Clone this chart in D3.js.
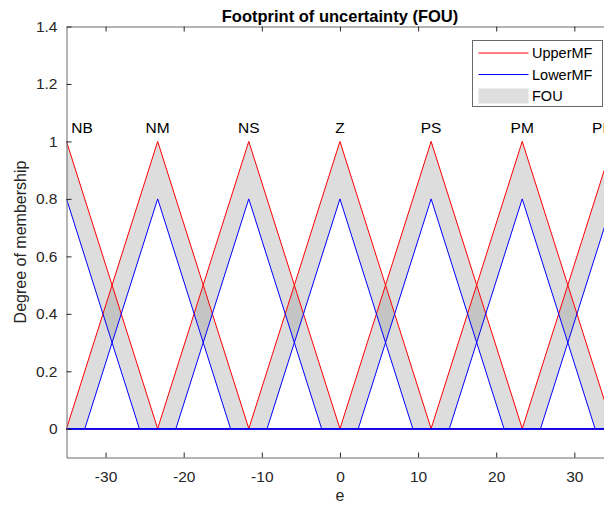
<!DOCTYPE html>
<html>
<head>
<meta charset="utf-8">
<script src="https://cdn.jsdelivr.net/npm/d3@7/dist/d3.min.js"></script>
<style>
  html, body { margin: 0; padding: 0; background: #fff; }
  svg { display: block; font-family: "Liberation Sans", Arial, Helvetica, sans-serif; }
</style>
</head>
<body>
<svg id="chart" width="604" height="506"></svg>
<script>
// Interval type-2 triangular membership functions for the error signal e
const mfNames   = ["NB", "NM", "NS", "Z", "PS", "PM", "PB"];
const mfCenters = [-35, -23.33, -11.67, 0, 11.67, 23.33, 35];
const upperHalfWidth = 11.67;   // upper MF: peak 1, base c ± 11.67
const upperPeak      = 1;
const lowerHalfWidth = 9.33;    // lower MF: peak 0.8, base c ± 9.33
const lowerPeak      = 0.8;
const labelX = [-33, -23.33, -11.67, 0, 11.67, 23.33, 33.6];
const labelY = 1.05;

const xDomain = [-35, 35];
const yDomain = [-0.1, 1.4];
const xTicks = [-30, -20, -10, 0, 10, 20, 30];
const yTicks = [0, 0.2, 0.4, 0.6, 0.8, 1, 1.2, 1.4];

const svg = d3.select("#chart");
const plotLeft = 66.5, plotRight = 613.4, plotTop = 26.5, plotBottom = 457.5;

const x = d3.scaleLinear().domain(xDomain).range([plotLeft, plotRight]);
const y = d3.scaleLinear().domain(yDomain).range([plotBottom, plotTop]);

const axisColor = "#6a6a6a";
const textColor = "#262626";

svg.append("defs").append("clipPath").attr("id", "plotClip")
  .append("rect").attr("x", plotLeft).attr("y", plotTop)
  .attr("width", plotRight - plotLeft).attr("height", plotBottom - plotTop);

const plot = svg.append("g").attr("clip-path", "url(#plotClip)");

// triangle vertices for one MF, spread over the whole domain
function tri(c, hw, peak) {
  return [[xDomain[0] - 20, 0], [c - hw, 0], [c, peak], [c + hw, 0], [xDomain[1] + 20, 0]];
}
const line = d3.line().x(d => x(d[0])).y(d => y(d[1]));

// FOU band: region between upper and lower MF
mfCenters.forEach(c => {
  const poly = [
    [c - upperHalfWidth, 0], [c, upperPeak], [c + upperHalfWidth, 0],
    [c + lowerHalfWidth, 0], [c, lowerPeak], [c - lowerHalfWidth, 0]
  ];
  plot.append("path")
    .attr("d", line(poly) + "Z")
    .attr("fill", "#808080")
    .attr("fill-opacity", 0.27)
    .attr("stroke", "none");
});

mfCenters.forEach(c => {
  plot.append("path").attr("d", line(tri(c, upperHalfWidth, upperPeak)))
    .attr("fill", "none").attr("stroke", "#ff0000").attr("stroke-width", 1);
});
mfCenters.forEach(c => {
  plot.append("path").attr("d", line(tri(c, lowerHalfWidth, lowerPeak)))
    .attr("fill", "none").attr("stroke", "#0000ff").attr("stroke-width", 1);
});

// MF names
mfNames.forEach((n, i) => {
  svg.append("text")
    .attr("x", x(labelX[i])).attr("y", y(labelY) + 5.5)
    .attr("text-anchor", "middle")
    .attr("font-size", 15.5).attr("fill", "#000")
    .text(n);
});

// Axes box with inward ticks
const axes = svg.append("g");
const tickLen = 5;

const bottomAxis = d3.axisBottom(x).tickValues(xTicks).tickSizeInner(-tickLen).tickSizeOuter(0).tickPadding(13)
  .tickFormat(d => d < 0 ? "-" + Math.abs(d) : d);
const topAxis = d3.axisTop(x).tickValues(xTicks).tickSizeInner(-tickLen).tickSizeOuter(0).tickFormat("");
const leftAxis = d3.axisLeft(y).tickValues(yTicks).tickSizeInner(-tickLen).tickSizeOuter(0).tickPadding(9)
  .tickFormat(d3.format("~g"));

function styleAxis(g) {
  g.select(".domain").attr("stroke", axisColor).attr("stroke-width", 1);
  g.selectAll(".tick line").attr("stroke", "#262626").attr("stroke-width", 1);
  g.selectAll(".tick text").attr("fill", textColor).attr("font-size", 15.5)
    .attr("font-family", "Liberation Sans, Arial, sans-serif");
}

axes.append("g").attr("transform", `translate(0,${plotBottom})`).call(bottomAxis).call(styleAxis);
axes.append("g").attr("transform", `translate(0,${plotTop})`).call(topAxis).call(styleAxis);
axes.append("g").attr("transform", `translate(${plotLeft},0)`).call(leftAxis).call(styleAxis);

// Title and axis labels
svg.append("text").attr("x", 340).attr("y", 21.5)
  .attr("text-anchor", "middle").attr("font-size", 16.5).attr("font-weight", "bold")
  .attr("fill", "#000").text("Footprint of uncertainty (FOU)");

svg.append("text").attr("x", 340).attr("y", 501)
  .attr("text-anchor", "middle").attr("font-size", 16).attr("fill", textColor).text("e");

svg.append("text")
  .attr("transform", `translate(26,${(plotTop + plotBottom) / 2}) rotate(-90)`)
  .attr("text-anchor", "middle").attr("font-size", 16).attr("fill", textColor)
  .text("Degree of membership");

// Legend
const legendItems = [
  { label: "UpperMF", type: "line", color: "#ff0000" },
  { label: "LowerMF", type: "line", color: "#0000ff" },
  { label: "FOU", type: "patch", color: "#dedede" }
];
const lg = svg.append("g").attr("transform", "translate(472.5,40.5)");
lg.append("rect").attr("x", 0).attr("y", 0).attr("width", 130).attr("height", 66)
  .attr("fill", "#fff").attr("stroke", axisColor).attr("stroke-width", 1);
legendItems.forEach((it, i) => {
  const cy = 12.5 + i * 21.5;
  if (it.type === "line") {
    lg.append("line").attr("x1", 6).attr("x2", 56).attr("y1", cy).attr("y2", cy)
      .attr("stroke", it.color).attr("stroke-width", 1);
  } else {
    lg.append("rect").attr("x", 6).attr("y", cy - 7.5).attr("width", 50).attr("height", 15)
      .attr("fill", it.color);
  }
  lg.append("text").attr("x", 59.5).attr("y", cy + 5.2).attr("font-size", 14.5)
    .attr("fill", "#000").text(it.label);
});
</script>
</body>
</html>
